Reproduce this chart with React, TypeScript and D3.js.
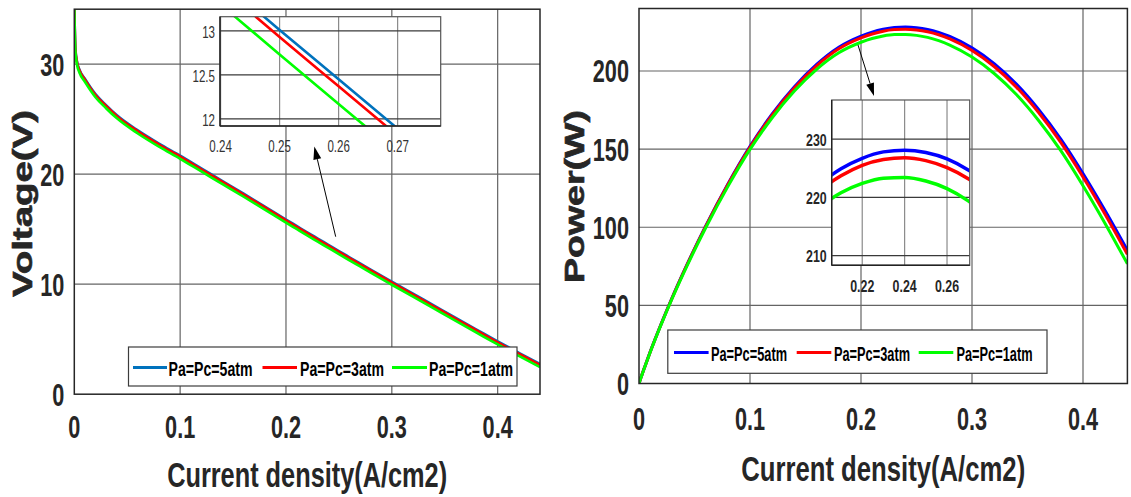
import React from 'react';
import * as d3 from 'd3';

// current density (A/cm2) shared by both charts
const currentDensity = [0, 0.001, 0.0025, 0.005, 0.01, 0.02, 0.03, 0.04, 0.06, 0.08, 0.1, 0.12, 0.14, 0.16, 0.18, 0.2,
  0.21, 0.22, 0.23, 0.24, 0.25, 0.26, 0.27, 0.28, 0.3, 0.32, 0.34, 0.36, 0.38, 0.4, 0.42, 0.44];

// voltage (V)
const voltage5atm = [35.58, 31.48, 30.28, 29.48, 28.68, 27.28, 26.28, 25.38, 23.98, 22.78, 21.68, 20.53, 19.38, 18.23, 17.06, 15.88,
  15.3, 14.72, 14.15, 13.58, 13.01, 12.45, 11.89, 11.33, 10.23, 9.14, 8.05, 6.96, 5.88, 4.8, 3.76, 2.74];
const voltage3atm = [35.5, 31.4, 30.2, 29.4, 28.6, 27.2, 26.2, 25.3, 23.9, 22.7, 21.6, 20.45, 19.3, 18.15, 16.98, 15.8,
  15.22, 14.64, 14.07, 13.5, 12.93, 12.37, 11.81, 11.25, 10.15, 9.06, 7.97, 6.88, 5.8, 4.72, 3.68, 2.66];
const voltage1atm = [35.3, 31.2, 30.0, 29.2, 28.4, 27.0, 26.0, 25.1, 23.7, 22.5, 21.4, 20.25, 19.1, 17.95, 16.78, 15.6,
  15.02, 14.44, 13.87, 13.3, 12.73, 12.17, 11.61, 11.05, 9.95, 8.86, 7.77, 6.68, 5.6, 4.52, 3.48, 2.46];

// power (W)
const power5atm = [0, 2.2, 5.3, 10.3, 20.1, 38.2, 55.2, 71.1, 100.7, 127.6, 151.8, 172.5, 189.9, 204.2, 215.2, 222.3,
  224.9, 226.7, 227.8, 228.1, 227.7, 226.6, 224.7, 222.1, 214.8, 204.7, 191.6, 175.4, 156.4, 134.4, 110.5, 85.2];
const power3atm = [0, 2.2, 5.3, 10.3, 20.0, 38.1, 55.0, 70.9, 100.4, 127.2, 151.2, 171.8, 189.1, 203.3, 214.2, 221.2,
  223.7, 225.5, 226.5, 226.8, 226.3, 225.1, 223.2, 220.5, 213.1, 202.9, 189.7, 173.4, 154.3, 132.2, 108.2, 82.7];
const power1atm = [0, 2.2, 5.2, 10.2, 19.9, 37.8, 54.6, 70.3, 99.5, 126.0, 149.8, 170.1, 187.2, 201.1, 211.7, 218.4,
  220.8, 222.4, 223.3, 223.4, 222.8, 221.5, 219.4, 216.6, 208.9, 198.4, 184.9, 168.3, 149.0, 126.6, 102.3, 76.6];

const seriesNames = ['Pa=Pc=5atm', 'Pa=Pc=3atm', 'Pa=Pc=1atm'];
const voltageColors = ['#0072BD', '#FF0000', '#00FF00'];
const powerColors = ['#0000FF', '#FF0000', '#00FF00'];

const xTicks = [0, 0.1, 0.2, 0.3, 0.4];
const voltageTicks = [0, 10, 20, 30];
const powerTicks = [0, 50, 100, 150, 200];
const vInsetXTicks = [0.24, 0.25, 0.26, 0.27];
const vInsetYTicks = [12, 12.5, 13];
const pInsetXTicks = [0.22, 0.24, 0.26];
const pInsetYTicks = [210, 220, 230];

const FONT = "'Liberation Sans', Arial, Helvetica, sans-serif";
const INK = '#262626';

function Txt({ x, y, size, text, sx = 0.75, anchor = 'middle', weight = 700, fill = INK, base = 'auto' }: any) {
  return (
    <text transform={`translate(${x},${y}) scale(${sx},1)`} textAnchor={anchor} dominantBaseline={base}
      fontFamily={FONT} fontSize={size} fontWeight={weight} fill={fill}>{text}</text>
  );
}

function Arrow({ from, to }: any) {
  const ang = Math.atan2(to[1] - from[1], to[0] - from[0]);
  const len = 13, hw = 4;
  const bx = to[0] - len * Math.cos(ang), by = to[1] - len * Math.sin(ang);
  const px = -Math.sin(ang) * hw, py = Math.cos(ang) * hw;
  return (
    <g>
      <line x1={from[0]} y1={from[1]} x2={bx} y2={by} stroke="#000" strokeWidth={1} />
      <polygon points={`${to[0]},${to[1]} ${bx + px},${by + py} ${bx - px},${by - py}`} fill="#000" />
    </g>
  );
}

function Panel({ id, box, yDomain, yTicks, ys, colors, lineW, inset, arrow, legend, yLabel, yLabelPos, xLabelBase, xTickBase }: any) {
  const x = d3.scaleLinear().domain([0, 0.44]).range([box.left, box.right]);
  const y = d3.scaleLinear().domain(yDomain).range([box.bottom, box.top]);
  const line = (sx: any, sy: any, vals: number[]) =>
    d3.line<number>().x((_, i) => sx(currentDensity[i])).y(d => sy(d)).curve(d3.curveMonotoneX)(vals) as string;

  const ix = d3.scaleLinear().domain(inset.xDomain).range([inset.left, inset.right]);
  const iy = d3.scaleLinear().domain(inset.yDomain).range([inset.bottom, inset.top]);

  return (
    <g>
      <defs>
        <clipPath id={`${id}-main`}><rect x={box.left} y={box.top} width={box.right - box.left} height={box.bottom - box.top} /></clipPath>
        <clipPath id={`${id}-inset`}><rect x={inset.left} y={inset.top} width={inset.right - inset.left} height={inset.bottom - inset.top} /></clipPath>
      </defs>
      {/* grid */}
      {xTicks.filter(t => t > 0).map(t => (
        <line key={'gx' + t} x1={x(t)} x2={x(t)} y1={box.top} y2={box.bottom} stroke="#646464" strokeWidth={1.2} />
      ))}
      {yTicks.filter((t: number) => t > 0).map((t: number) => (
        <line key={'gy' + t} x1={box.left} x2={box.right} y1={y(t)} y2={y(t)} stroke="#646464" strokeWidth={1.2} />
      ))}
      {/* curves */}
      <g clipPath={`url(#${id}-main)`}>
        {ys.map((vals: number[], k: number) => (
          <path key={k} d={line(x, y, vals)} fill="none" stroke={colors[k]} strokeWidth={lineW} />
        ))}
      </g>
      {/* axes box */}
      <rect x={box.left} y={box.top} width={box.right - box.left} height={box.bottom - box.top} fill="none" stroke={INK} strokeWidth={1.5} />
      {xTicks.map(t => (
        <Txt key={'tx' + t} x={x(t)} y={box.bottom + xTickBase} size={31} sx={0.7} text={String(t)} />
      ))}
      {yTicks.map((t: number) => (
        <Txt key={'ty' + t} x={box.left - 10} y={y(t) + 1} size={31} sx={0.7} anchor="end" base="central" text={String(t)} />
      ))}

      {/* inset */}
      <rect x={inset.left} y={inset.top} width={inset.right - inset.left} height={inset.bottom - inset.top} fill="#fff" />
      {inset.xTicks.map((t: number) => (
        <line key={'igx' + t} x1={ix(t)} x2={ix(t)} y1={inset.top} y2={inset.bottom} stroke="#8a8a8a" strokeWidth={1.2} />
      ))}
      {inset.yTicks.map((t: number) => (
        <line key={'igy' + t} x1={inset.left} x2={inset.right} y1={iy(t)} y2={iy(t)} stroke="#3a3a3a" strokeWidth={1.2} />
      ))}
      <g clipPath={`url(#${id}-inset)`}>
        {ys.map((vals: number[], k: number) => (
          <path key={k} d={line(ix, iy, vals)} fill="none" stroke={colors[k]} strokeWidth={inset.lineW} />
        ))}
      </g>
      <rect x={inset.left} y={inset.top} width={inset.right - inset.left} height={inset.bottom - inset.top} fill="none" stroke="#555" strokeWidth={1.2} />
      <line x1={inset.left} x2={inset.left} y1={inset.top} y2={inset.bottom} stroke="#222" strokeWidth={1.4} />
      <line x1={inset.left} x2={inset.right} y1={inset.bottom} y2={inset.bottom} stroke="#222" strokeWidth={1.4} />
      {inset.xTicks.map((t: number) => (
        <Txt key={'itx' + t} x={ix(t)} y={inset.bottom + inset.xTickBase} size={inset.font} sx={inset.sx}
          weight={inset.weight} fill={inset.fill} text={String(t)} />
      ))}
      {inset.yTicks.map((t: number) => (
        <Txt key={'ity' + t} x={inset.left - 5} y={iy(t) + 1} size={inset.font} sx={inset.sx} anchor="end" base="central"
          weight={inset.weight} fill={inset.fill} text={String(t)} />
      ))}
      <Arrow from={arrow.from} to={arrow.to} />

      {/* legend */}
      <rect x={legend.left} y={legend.top} width={legend.right - legend.left} height={legend.bottom - legend.top}
        fill="#fff" stroke="#3c3c3c" strokeWidth={1.2} />
      {seriesNames.map((name, k) => (
        <g key={name}>
          <line x1={legend.lines[k][0]} x2={legend.lines[k][1]} y1={legend.cy} y2={legend.cy} stroke={colors[k]} strokeWidth={3} />
          <text x={legend.textX[k]} y={legend.cy + 1} dominantBaseline="central" textLength={legend.textLen} lengthAdjust="spacingAndGlyphs"
            fontFamily={FONT} fontSize={legend.font} fontWeight={700} fill="#000">{name}</text>
        </g>
      ))}

      {/* axis labels */}
      <text x={(box.left + box.right) / 2 - xLabelBase.len / 2} y={box.bottom + xLabelBase.dy} textLength={xLabelBase.len}
        lengthAdjust="spacingAndGlyphs" fontFamily={FONT} fontSize={35} fontWeight={700} fill={INK}>Current density(A/cm2)</text>
      <text transform={`translate(${yLabelPos.x},${yLabelPos.y}) rotate(-90)`} x={-yLabelPos.len / 2} y={0}
        dominantBaseline="central" textLength={yLabelPos.len} lengthAdjust="spacingAndGlyphs"
        fontFamily={FONT} fontSize={27} fontWeight={700} fill={INK} stroke={INK} strokeWidth={0.6}>{yLabel}</text>
    </g>
  );
}

export default function App() {
  return (
    <svg width={1131} height={497} style={{ position: 'absolute', left: 0, top: 0, background: '#fff' }}>
      <rect width={1131} height={497} fill="#fff" />
      <Panel
        id="volt"
        box={{ left: 74.3, right: 540, top: 9.2, bottom: 394.2 }}
        yDomain={[0, 35]}
        yTicks={voltageTicks}
        ys={[voltage5atm, voltage3atm, voltage1atm]}
        colors={voltageColors}
        lineW={2.6}
        inset={{
          left: 220, right: 440.7, top: 16.7, bottom: 126,
          xDomain: [0.2399, 0.2773], yDomain: [11.92, 13.16],
          xTicks: vInsetXTicks, yTicks: vInsetYTicks, lineW: 2.6,
          font: 17, sx: 0.68, weight: 400, fill: '#333', xTickBase: 26,
        }}
        arrow={{ from: [335.7, 236.7], to: [314.3, 146.5] }}
        legend={{
          left: 128.5, right: 517, top: 347, bottom: 386, cy: 367.5, font: 21,
          lines: [[133, 167], [262.5, 297], [392, 427]], textX: [168.5, 300, 429], textLen: 84,
        }}
        yLabel="Voltage(V)"
        yLabelPos={{ x: 23, y: 203.5, len: 187 }}
        xLabelBase={{ dy: 93, len: 280 }}
        xTickBase={44}
      />
      <Panel
        id="pow"
        box={{ left: 639, right: 1127.4, top: 8.5, bottom: 383.5 }}
        yDomain={[0, 240]}
        yTicks={powerTicks}
        ys={[power5atm, power3atm, power1atm]}
        colors={powerColors}
        lineW={3}
        inset={{
          left: 831.7, right: 969.7, top: 100, bottom: 265.3,
          xDomain: [0.2056, 0.2707], yDomain: [208.35, 236.7],
          xTicks: pInsetXTicks, yTicks: pInsetYTicks, lineW: 3.5,
          font: 16.5, sx: 0.75, weight: 700, fill: '#262626', xTickBase: 27,
        }}
        arrow={{ from: [858, 45], to: [874, 96] }}
        legend={{
          left: 667.8, right: 1047, top: 330, bottom: 373.3, cy: 352.5, font: 19.5,
          lines: [[674, 708.6], [796.7, 831.3], [918.7, 953.3]], textX: [711, 834, 956.5], textLen: 76,
        }}
        yLabel="Power(W)"
        yLabelPos={{ x: 575, y: 196.5, len: 173 }}
        xLabelBase={{ dy: 97, len: 284 }}
        xTickBase={46.5}
      />
    </svg>
  );
}
